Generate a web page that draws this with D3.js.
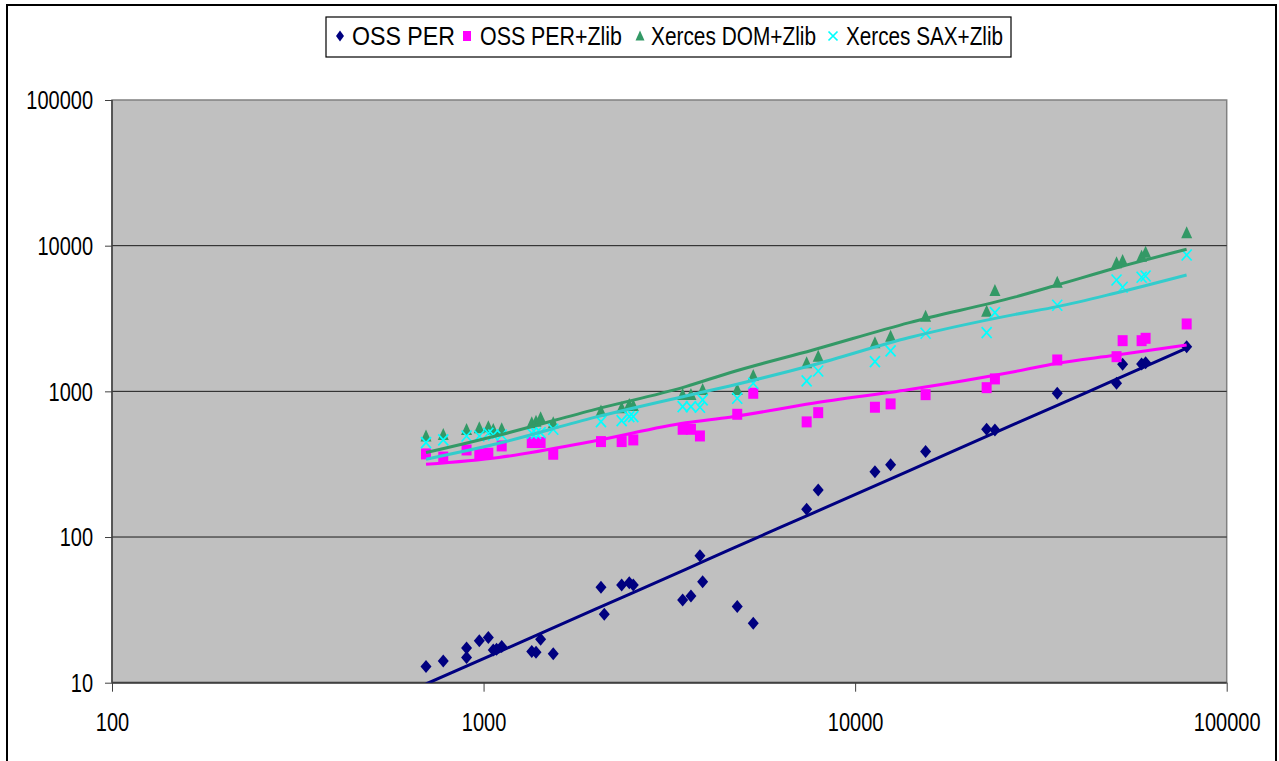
<!DOCTYPE html>
<html><head><meta charset="utf-8">
<script src="https://cdn.jsdelivr.net/npm/d3@7"></script>
<style>
body{margin:0;background:#fff;overflow:hidden;}
text{font-family:Arial,"Liberation Sans",sans-serif;fill:#000;}
</style>
</head><body>
<svg id="chart" width="1279" height="761"></svg>
<script>
// ---- data ----
const sizes = [700, 779, 900, 900, 974, 1030, 1062, 1084, 1119, 1348, 1384, 1424, 1540,
  2070, 2113, 2353, 2467, 2529, 3434, 3615, 3822, 3887, 4816, 5319, 7405, 7955,
  11306, 12459, 15476, 22590, 23780, 34990, 50530, 52470, 59020, 60500, 78030];
const ossPer = [12.9, 14.1, 17.3, 14.9, 19.4, 20.4, 16.8, 17.0, 17.7, 16.4, 16.2, 19.9, 15.8,
  45.2, 29.5, 46.9, 48.6, 46.9, 37.0, 39.4, 74.5, 49.4, 33.3, 25.6, 155, 210,
  281, 313, 386, 549, 543, 970, 1137, 1535, 1540, 1574, 2027];
const ossPerZlib = [372, 354, 396, null, 372, 376, null, null, 422, 445, null, 445, 370,
  452, null, 452, null, 464, 549, 549, 494, null, 696, 970, 617, 714,
  778, 820, 949, 1060, 1217, 1642, 1730, 2228, 2228, 2313, 2901];
const domZlib = [489, 502, 543, null, 558, 567, 543, null, 549, 604, 619, 654, 604,
  726, null, 766, 807, 794, 945, 945, null, 1022, 1022, 1276, 1559, 1730,
  2138, 2373, 3256, 3524, 4889, 5573, 7571, 7852, 8405, 8954, 12164];
const saxZlib = [445, 464, 494, null, 494, 516, 502, null, 502, 516, 516, 521, 549,
  619, null, 629, 671, 671, 785, 785, 778, 873, 897, 1137, 1179, 1380,
  1599, 1894, 2505, 2529, 3467, 3900, 5815, 5183, 6069, 6194, 8633];

const trendSizes = [700, 1100, 2000, 3500, 4600, 7700, 14000, 27000, 35000, 50000, 78000];
const trendOssPer = [9.8, 16.3, 32, 60, 82, 146, 286, 600, 800, 1200, 1980];
const trendOssPerZlib = [316, 352, 458, 608, 665, 829, 1030, 1370, 1560, 1770, 2083];
const trendDomZlib = [380, 500, 752, 1078, 1343, 1924, 2965, 4450, 5373, 6998, 9447];
const trendSaxZlib = [342, 440, 665, 930, 1089, 1518, 2340, 3375, 3815, 4712, 6292];

const seriesNames = ["OSS PER", "OSS PER+Zlib", "Xerces DOM+Zlib", "Xerces SAX+Zlib"];
const xTicks = [100, 1000, 10000, 100000];
const yTicks = [10, 100, 1000, 10000, 100000];

// ---- setup ----
const svg = d3.select("#chart");
const L = 112, R = 1226.7, T = 100, B = 682.7;
const x = d3.scaleLog().domain([100, 100000]).range([L, R]);
const y = d3.scaleLog().domain([10, 100000]).range([B, T]);
const FS = 20, SY = 1.25;

// chart frame
svg.append("rect").attr("x", 7).attr("y", 5).attr("width", 1269).attr("height", 800)
  .attr("fill", "#fff").attr("stroke", "#000").attr("stroke-width", 2);

// plot area
svg.append("rect").attr("x", L).attr("y", T).attr("width", R - L).attr("height", B - T)
  .attr("fill", "#C0C0C0").attr("stroke", "#808080").attr("stroke-width", 1.5);

svg.append("defs").append("clipPath").attr("id", "clip")
  .append("rect").attr("x", L).attr("y", T).attr("width", R - L).attr("height", B - T);

// gridlines
svg.append("g").selectAll("line").data(yTicks.filter(v => v > 10 && v < 100000)).join("line")
  .attr("x1", L).attr("x2", R).attr("y1", d => y(d)).attr("y2", d => y(d))
  .attr("stroke", "#1a1a1a").attr("stroke-width", 1);

// axes
const yAxis = d3.axisLeft(y).tickValues(yTicks).tickSize(7).tickPadding(10).tickFormat(d3.format("d"));
const gy = svg.append("g").attr("transform", `translate(${L},0)`).call(yAxis);
const xAxis = d3.axisBottom(x).tickValues(xTicks).tickSize(9).tickPadding(10).tickFormat(d3.format("d"));
const gx = svg.append("g").attr("transform", `translate(0,${B})`).call(xAxis);
[gx, gy].forEach(g => {
  g.select(".domain").attr("stroke", "#404040");
  g.selectAll(".tick line").attr("stroke", "#404040");
  g.selectAll("text").attr("font-size", FS).attr("fill", "#000")
    .attr("font-family", "Arial, 'Liberation Sans', sans-serif");
});
gy.select(".domain").attr("stroke-width", 1.5).attr("d", `M0,${B}V${T}`);
gx.select(".domain").attr("stroke-width", 2).attr("d", `M${L},0H${R}`);
gy.selectAll(".tick text").each(function () {
  const t = d3.select(this);
  const xx = +t.attr("x");
  t.attr("x", null).attr("dy", "0.35em")
    .attr("transform", `translate(${xx - 2},0) scale(1,${SY})`);
});
gx.selectAll(".tick text").each(function () {
  const t = d3.select(this);
  t.attr("y", null).attr("dy", "0.35em")
    .attr("transform", `translate(0,${40}) scale(1,${SY})`);
});

// markers
const markers = {
  diamond: (cx, cy) => `M${cx},${cy - 6.5}L${cx + 5.5},${cy}L${cx},${cy + 6.5}L${cx - 5.5},${cy}Z`,
  square: (cx, cy) => `M${cx - 5},${cy - 5.5}h10v11h-10Z`,
  triangle: (cx, cy) => `M${cx},${cy - 7}L${cx + 5.5},${cy + 5}L${cx - 5.5},${cy + 5}Z`,
  cross: (cx, cy) => `M${cx - 5},${cy - 5.5}L${cx + 5},${cy + 5.5}M${cx + 5},${cy - 5.5}L${cx - 5},${cy + 5.5}`
};
const series = [
  {name: seriesNames[0], vals: ossPer, trend: trendOssPer, shape: "diamond", color: "#000080", line: "#000080"},
  {name: seriesNames[1], vals: ossPerZlib, trend: trendOssPerZlib, shape: "square", color: "#FF00FF", line: "#FF00FF"},
  {name: seriesNames[2], vals: domZlib, trend: trendDomZlib, shape: "triangle", color: "#339966", line: "#339966"},
  {name: seriesNames[3], vals: saxZlib, trend: trendSaxZlib, shape: "cross", color: "#00FFFF", line: "#33CCCC"}
];
function styleMarker(sel, s) {
  if (s.shape === "cross") sel.attr("fill", "none").attr("stroke", s.color).attr("stroke-width", 1.7);
  else sel.attr("fill", s.color).attr("stroke", "none");
}
series.forEach(s => {
  const pts = sizes.map((v, i) => [v, s.vals[i]]).filter(p => p[1] != null);
  const g = svg.append("g");
  g.selectAll("path").data(pts).join("path")
    .attr("d", d => markers[s.shape](x(d[0]), y(d[1])))
    .call(sel => styleMarker(sel, s));
});
// trend lines
const lineGen = d3.line().x(d => x(d[0])).y(d => y(d[1])).curve(d3.curveMonotoneX);
series.forEach(s => {
  svg.append("path").attr("clip-path", "url(#clip)")
    .attr("d", lineGen(trendSizes.map((v, i) => [v, s.trend[i]])))
    .attr("fill", "none").attr("stroke", s.line).attr("stroke-width", 3);
});

// legend
const lg = svg.append("g");
lg.append("rect").attr("x", 326).attr("y", 17).attr("width", 685).attr("height", 40)
  .attr("fill", "#fff").attr("stroke", "#000").attr("stroke-width", 1.2);
const legMarkX = [340, 467, 640, 833];
const legTextX = [352, 480, 651, 846];
const legTextW = [103, 142, 165, 157];
const ly = 36;
series.forEach((s, i) => {
  const cx = legMarkX[i];
  const small = {
    diamond: `M${cx},${ly - 5.5}L${cx + 4},${ly}L${cx},${ly + 5.5}L${cx - 4},${ly}Z`,
    square: `M${cx - 4},${ly - 5}h8v10h-8Z`,
    triangle: `M${cx},${ly - 5.5}L${cx + 4.5},${ly + 4.5}L${cx - 4.5},${ly + 4.5}Z`,
    cross: `M${cx - 4.5},${ly - 4.5}L${cx + 4.5},${ly + 4.5}M${cx + 4.5},${ly - 4.5}L${cx - 4.5},${ly + 4.5}`
  }[s.shape];
  lg.append("path").attr("d", small).call(sel => styleMarker(sel, s));
  lg.append("text").text(s.name).attr("font-size", 20).attr("dy", "0.35em")
    .attr("textLength", legTextW[i]).attr("lengthAdjust", "spacingAndGlyphs")
    .attr("transform", `translate(${legTextX[i]},${ly}) scale(1,${SY})`);
});
</script>
</body></html>
